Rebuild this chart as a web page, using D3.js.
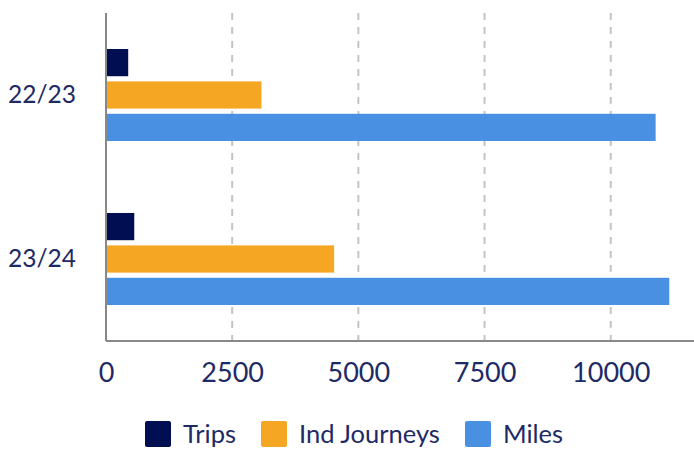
<!DOCTYPE html>
<html>
<head>
<meta charset="utf-8">
<script src="https://cdn.jsdelivr.net/npm/d3@7"></script>
<style>
  html, body { margin: 0; padding: 0; background: #fff; }
  svg { display: block; font-family: Lato, "Open Sans", sans-serif; }
</style>
</head>
<body>
<svg id="chart" width="694" height="451"></svg>
<script>
const categories = ["22/23", "23/24"];
const seriesNames = ["Trips", "Ind Journeys", "Miles"];
const trips = [440, 560];
const indJourneys = [3080, 4520];
const miles = [10890, 11160];
const tickValues = [0, 2500, 5000, 7500, 10000];
const colors = ["#010f52", "#f5a623", "#4a90e2"];

const seriesValues = [trips, indJourneys, miles];
const textColor = "#1e2a66";

const svg = d3.select("#chart");
const mLeft = 106, mRight = 694, mTop = 13, mBottom = 341;

const x = d3.scaleLinear().domain([0, 11650]).range([mLeft, mRight]);
const y0 = d3.scaleBand().domain(categories).range([mTop, mBottom]).paddingInner(0.439).paddingOuter(0.2195);
const y1 = d3.scaleBand().domain(seriesNames).range([0, y0.bandwidth()]).paddingInner(0.16).paddingOuter(0);

// gridlines
svg.append("g").selectAll("line").data(tickValues.filter(d => d > 0)).join("line")
  .attr("x1", d => x(d)).attr("x2", d => x(d))
  .attr("y1", mTop).attr("y2", mBottom)
  .attr("stroke", "#c4c4c4").attr("stroke-width", 2).attr("stroke-dasharray", "7,7");

// bars
const groups = svg.append("g").selectAll("g").data(categories).join("g")
  .attr("transform", d => `translate(0,${y0(d)})`);
groups.selectAll("rect")
  .data((c, i) => seriesNames.map((s, j) => ({ s, v: seriesValues[j][i], c: colors[j] })))
  .join("rect")
  .attr("x", x(0))
  .attr("y", d => y1(d.s))
  .attr("width", d => x(d.v) - x(0))
  .attr("height", y1.bandwidth())
  .attr("fill", d => d.c);

// x axis
const xAxis = svg.append("g").attr("transform", `translate(0,${mBottom})`)
  .call(d3.axisBottom(x).tickValues(tickValues).tickSize(0).tickPadding(22).tickFormat(d3.format("d")));
xAxis.select(".domain").attr("stroke", "#888").attr("stroke-width", 2).attr("d", `M${mLeft},0H${mRight}`);
xAxis.selectAll("text").attr("fill", textColor).attr("font-size", 27).attr("font-family", "Lato");

// y axis
const yAxis = svg.append("g").attr("transform", `translate(${mLeft},0)`)
  .call(d3.axisLeft(y0).tickSize(0).tickPadding(30));
yAxis.select(".domain").attr("stroke", "#888").attr("stroke-width", 2).attr("d", `M0,${mTop}V${mBottom}`);
yAxis.selectAll("text").attr("fill", textColor).attr("font-size", 24.5).attr("font-family", "Lato");

// legend
const legendX = [145, 261, 465];
const legend = svg.append("g").selectAll("g").data(seriesNames).join("g")
  .attr("transform", (d, i) => `translate(${legendX[i]},421)`);
legend.append("rect").attr("width", 26).attr("height", 26).attr("rx", 2)
  .attr("fill", (d, i) => colors[i]);
legend.append("text").attr("x", 38).attr("y", 22)
  .attr("fill", textColor).attr("font-size", 25.5).attr("font-family", "Lato")
  .text(d => d);
</script>
</body>
</html>
